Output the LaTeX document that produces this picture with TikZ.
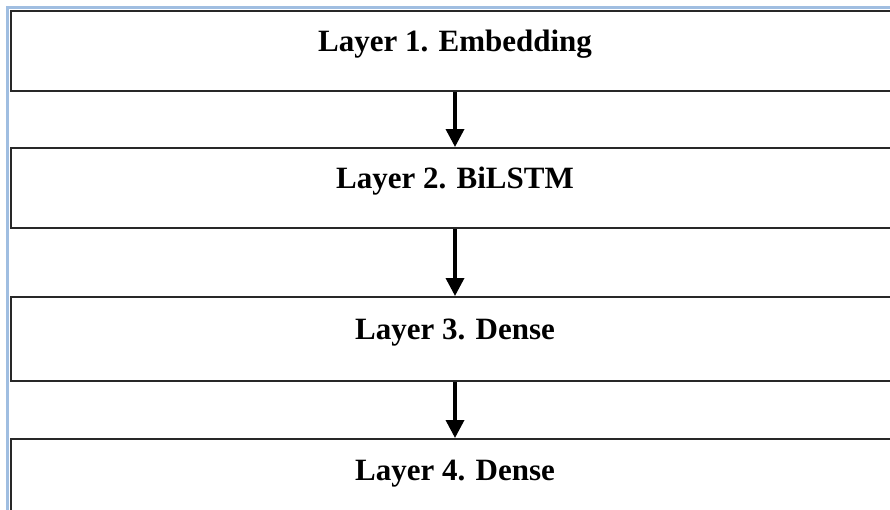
\documentclass[tikz,border=0pt]{standalone}
\usepackage{fontspec}
\setmainfont{Liberation Serif}
\usetikzlibrary{arrows.meta}
\definecolor{frameblue}{RGB}{160,190,225}
\definecolor{boxline}{RGB}{40,40,40}
\tikzset{
  layerbox/.style={draw=boxline, line width=2pt, fill=white, minimum width=910pt, inner sep=0pt},
  layertext/.style={anchor=base, font=\fontsize{31}{36}\selectfont\bfseries, inner sep=0pt},
  flow/.style={line width=3.5pt, -{Triangle[width=18pt,length=18pt]}, shorten >=0pt}
}
\begin{document}
\begin{tikzpicture}[x=1pt,y=-1pt]
\useasboundingbox (0,0) rectangle (890,509);
\clip (0,0) rectangle (890,509);
\fill[white] (0,0) rectangle (890,509);
\draw[frameblue, line width=3pt] (7.5,515) -- (7.5,7.5) -- (895,7.5);
\node[layerbox, minimum height=80pt, anchor=west] (b1) at (10,51) {};
\node[layerbox, minimum height=80pt, anchor=west] (b2) at (10,188) {};
\node[layerbox, minimum height=84pt, anchor=west] (b3) at (10,339) {};
\node[layerbox, minimum height=82pt, anchor=west] (b4) at (10,480) {};
\coordinate (c1) at (455,51);
\coordinate (c2) at (455,188);
\coordinate (c3) at (455,339);
\coordinate (c4) at (455,480);
\node[layertext] (t1) at (c1) {Layer 1. Embedding};
\node[layertext] (t2) at (c2) {Layer 2. BiLSTM};
\node[layertext] (t3) at (c3) {Layer 3. Dense};
\node[layertext] (t4) at (c4) {Layer 4. Dense};
\draw[flow] (b1.south -| c1) -- (b2.north -| c2);
\draw[flow] (b2.south -| c2) -- (b3.north -| c3);
\draw[flow] (b3.south -| c3) -- (b4.north -| c4);
\end{tikzpicture}
\end{document}
